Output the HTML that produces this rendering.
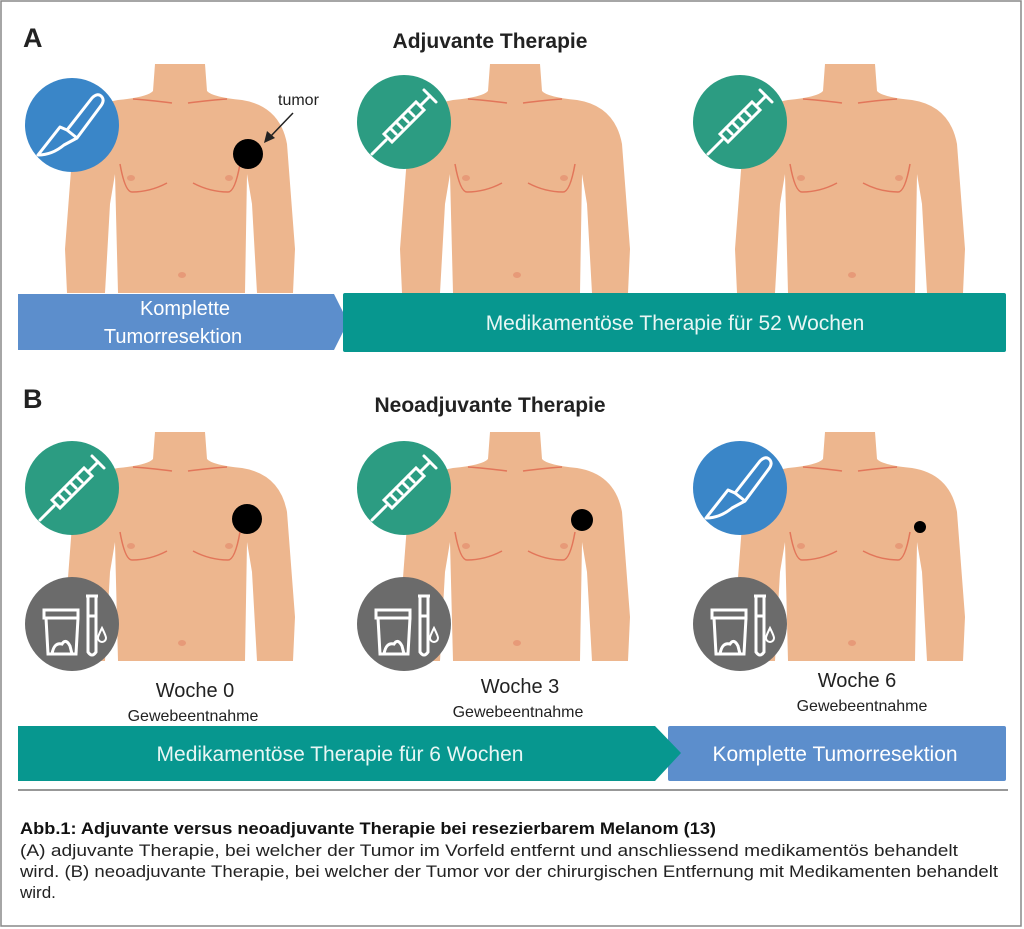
<!DOCTYPE html>
<html><head><meta charset="utf-8"><style>
html,body{margin:0;padding:0;background:#fff}
svg{display:block}
text{font-family:"Liberation Sans",sans-serif}
</style></head><body>
<svg width="1024" height="929" viewBox="0 0 1024 929" xmlns="http://www.w3.org/2000/svg">
<defs>
<g id="torso">
<path d="M-25 0 L25 0 L27 27 Q32 33 62 36 Q100 42 107 80 L115 185 L113 229 L77 229 L72 140 L67 110 L65 229 L-62 229 L-65 110 L-70 140 L-75 229 L-113 229 L-115 185 L-107 80 Q-100 42 -62 36 Q-32 33 -27 27 Z" fill="#EDB68E"/>
<path d="M-47 35 Q-32 36 -8 39 M47 35 Q32 36 8 39" stroke="#E2765A" stroke-width="1.5" fill="none"/>
<path d="M-60 100 Q-55 128 -48 128 Q-30 128 -13 119 M60 100 Q55 128 48 128 Q30 128 13 119" stroke="#E2765A" stroke-width="1.5" fill="none"/>
<ellipse cx="-49" cy="114" rx="4" ry="3" fill="#E79A78"/>
<ellipse cx="49" cy="114" rx="4" ry="3" fill="#E79A78"/>
<ellipse cx="2" cy="211" rx="4" ry="3" fill="#E79A78"/>
</g>
<g id="syr" stroke="#fff" stroke-width="3" fill="none" stroke-linecap="round">
<line x1="-32" y1="32" x2="-18" y2="18"/>
<path d="M-20 12 L12 -20 L20 -12 L-12 20 Z"/>
<line x1="-14" y1="6" x2="-8" y2="12"/><line x1="-8" y1="0" x2="-2" y2="6"/><line x1="-2" y1="-6" x2="4" y2="0"/><line x1="4" y1="-12" x2="10" y2="-6"/>
<line x1="16" y1="-16" x2="26" y2="-26"/><line x1="20" y1="-32" x2="32" y2="-20"/>
</g>
<g id="scal" stroke="#fff" stroke-width="3" fill="none" stroke-linejoin="round">
<path d="M-5 5 L20 -27 Q26 -33 30 -28 Q33 -24 28 -18 L5 13 Z"/>
<path d="M-5 5 L-12 2 L-34 30 Q-20 30 -8 20 L5 13"/>
</g>
<g id="lab" stroke="#fff" stroke-width="3" fill="none">
<rect x="-28" y="-14" width="34" height="8"/>
<path d="M-26 -6 L-24 30 L4 30 L6 -6"/>
<path d="M-20 30 Q-18 18 -10 20 Q-6 14 -2 22 L0 30" />
<path d="M14 -28 L26 -28 M16 -28 L16 28 Q20 34 24 28 L24 -28 M16 -8 L24 -8"/>
<path d="M30 4 Q34 12 34 14 A4 4 0 0 1 26 14 Q26 12 30 4Z" stroke-width="2"/>
</g>
</defs>

<rect x="1" y="1" width="1020" height="925" fill="#fff" stroke="#888" stroke-width="1.5"/>

<text x="23" y="47" font-size="27" font-weight="bold" fill="#222">A</text>
<text x="490" y="48" font-size="21" font-weight="bold" fill="#222" text-anchor="middle">Adjuvante Therapie</text>

<use href="#torso" x="180" y="64"/>
<use href="#torso" x="515" y="64"/>
<use href="#torso" x="850" y="64"/>
<circle cx="72" cy="125" r="47" fill="#3A86C8"/><use href="#scal" x="72" y="125"/>
<circle cx="404" cy="122" r="47" fill="#2C9C82"/><use href="#syr" x="404" y="122"/>
<circle cx="740" cy="122" r="47" fill="#2C9C82"/><use href="#syr" x="740" y="122"/>
<circle cx="248" cy="154" r="15" fill="#000"/>
<text x="278" y="105" font-size="16" fill="#222">tumor</text>
<line x1="293" y1="113" x2="270" y2="137" stroke="#222" stroke-width="1.5"/>
<path d="M264 143 L267 131 L275 138 Z" fill="#222"/>

<path d="M18 294 L334 294 L348 322 L334 350 L18 350 Z" fill="#5C8ECC"/>
<text x="185" y="315" font-size="20" fill="#fff" text-anchor="middle">Komplette</text>
<text x="173" y="343" font-size="20" fill="#fff" text-anchor="middle">Tumorresektion</text>
<rect x="343" y="293" width="663" height="59" rx="2" fill="#07978F"/>
<text x="675" y="330" font-size="21" fill="#e8f6f4" text-anchor="middle">Medikamentöse Therapie  für 52 Wochen</text>

<text x="23" y="408" font-size="27" font-weight="bold" fill="#222">B</text>
<text x="490" y="412" font-size="21" font-weight="bold" fill="#222" text-anchor="middle">Neoadjuvante Therapie</text>

<use href="#torso" x="180" y="432"/>
<use href="#torso" x="515" y="432"/>
<use href="#torso" x="850" y="432"/>
<circle cx="72" cy="488" r="47" fill="#2C9C82"/><use href="#syr" x="72" y="488"/>
<circle cx="404" cy="488" r="47" fill="#2C9C82"/><use href="#syr" x="404" y="488"/>
<circle cx="740" cy="488" r="47" fill="#3A86C8"/><use href="#scal" x="740" y="488"/>
<circle cx="72" cy="624" r="47" fill="#6B6B6B"/><use href="#lab" x="72" y="624"/>
<circle cx="404" cy="624" r="47" fill="#6B6B6B"/><use href="#lab" x="404" y="624"/>
<circle cx="740" cy="624" r="47" fill="#6B6B6B"/><use href="#lab" x="740" y="624"/>
<circle cx="247" cy="519" r="15" fill="#000"/>
<circle cx="582" cy="520" r="11" fill="#000"/>
<circle cx="920" cy="527" r="6" fill="#000"/>

<text x="195" y="697" font-size="20" fill="#222" text-anchor="middle">Woche 0</text>
<text x="193" y="721" font-size="16" fill="#222" text-anchor="middle">Gewebeentnahme</text>
<text x="520" y="693" font-size="20" fill="#222" text-anchor="middle">Woche 3</text>
<text x="518" y="717" font-size="16" fill="#222" text-anchor="middle">Gewebeentnahme</text>
<text x="857" y="687" font-size="20" fill="#222" text-anchor="middle">Woche 6</text>
<text x="862" y="711" font-size="16" fill="#222" text-anchor="middle">Gewebeentnahme</text>

<rect x="668" y="726" width="338" height="55" rx="2" fill="#5C8ECC"/>
<path d="M18 726 L655 726 L681 753 L655 781 L18 781 Z" fill="#07978F"/>
<text x="340" y="761" font-size="21" fill="#e8f6f4" text-anchor="middle">Medikamentöse Therapie  für 6 Wochen</text>
<text x="835" y="761" font-size="21" fill="#fff" text-anchor="middle">Komplette Tumorresektion</text>

<line x1="18" y1="790" x2="1008" y2="790" stroke="#777" stroke-width="1.5"/>

<text x="20" y="834" font-size="17" font-weight="bold" fill="#111" textLength="696" lengthAdjust="spacingAndGlyphs">Abb.1: Adjuvante versus neoadjuvante Therapie bei resezierbarem Melanom (13)</text>
<text x="20" y="856" font-size="17" fill="#222" textLength="938" lengthAdjust="spacingAndGlyphs">(A) adjuvante Therapie, bei welcher der Tumor im Vorfeld entfernt und anschliessend medikamentös behandelt</text>
<text x="20" y="877" font-size="17" fill="#222" textLength="978" lengthAdjust="spacingAndGlyphs">wird. (B) neoadjuvante Therapie, bei welcher der Tumor vor der chirurgischen Entfernung mit Medikamenten behandelt</text>
<text x="20" y="898" font-size="17" fill="#222">wird.</text>
</svg>
</body></html>
